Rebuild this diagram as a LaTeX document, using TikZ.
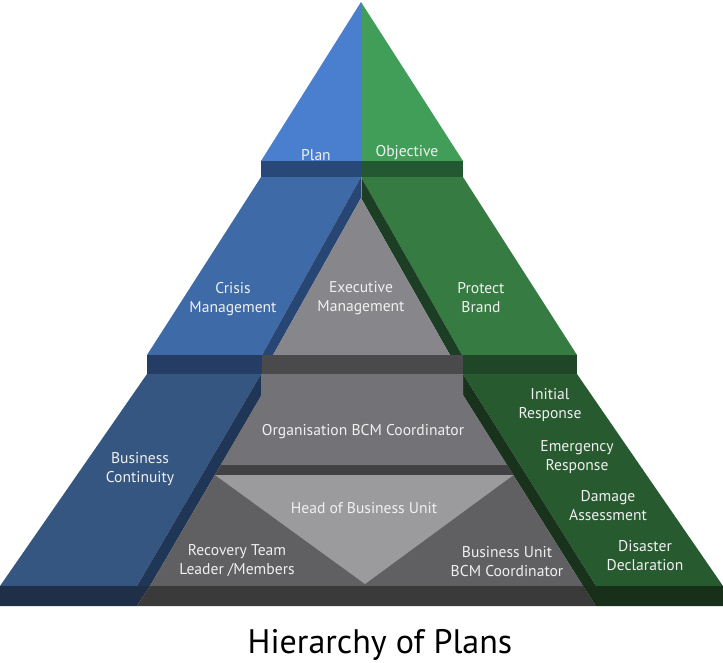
\documentclass[tikz,border=0pt]{standalone}
\usepackage{fontspec}
\setmainfont{PT Sans}
\definecolor{topblue}{RGB}{74,126,207}
\definecolor{topgreen}{RGB}{64,158,88}
\definecolor{bandAblue}{RGB}{40,72,120}
\definecolor{bandAgreen}{RGB}{36,88,50}
\definecolor{tBblue}{RGB}{62,106,168}
\definecolor{tBbluedark}{RGB}{40,70,115}
\definecolor{tBgreen}{RGB}{54,123,66}
\definecolor{tBgreendark}{RGB}{28,62,36}
\definecolor{tBgrey}{RGB}{135,135,139}
\definecolor{bandBblue}{RGB}{37,61,100}
\definecolor{bandBgrey}{RGB}{74,74,76}
\definecolor{bandBgreen}{RGB}{31,70,39}
\definecolor{tCblue}{RGB}{52,86,128}
\definecolor{tCbluedark}{RGB}{32,54,86}
\definecolor{tCgreen}{RGB}{40,90,48}
\definecolor{tCgreendark}{RGB}{24,50,28}
\definecolor{orggrey}{RGB}{115,115,119}
\definecolor{bandCgrey}{RGB}{66,66,68}
\definecolor{hobugrey}{RGB}{155,155,158}
\definecolor{sidegrey}{RGB}{96,96,99}
\definecolor{bandDblue}{RGB}{31,47,72}
\definecolor{bandDgrey}{RGB}{58,58,58}
\definecolor{bandDgreen}{RGB}{24,48,26}
\definecolor{labeltext}{RGB}{240,240,240}
\tikzset{
  lbl/.style={text=labeltext, align=center, inner sep=0pt,
    font=\fontsize{15.6}{19}\selectfont},
  ttl/.style={text=black, inner sep=0pt, anchor=base,
    font=\fontsize{34}{40}\selectfont}
}
\begin{document}
\begin{tikzpicture}[x=1pt,y=-1pt]
\useasboundingbox (0,0) rectangle (723,662);
% top triangle
\fill[topblue] (361,2) -- (261,161) -- (361,161) -- cycle;
\fill[topgreen] (361,2) -- (463,161) -- (361,161) -- cycle;
\fill[bandAblue] (261,161) rectangle (361,177);
\fill[bandAgreen] (361,161) rectangle (463,177);
% tier 2
\fill[tBblue] (261,177) -- (361,177) -- (262,355) -- (147,355) -- cycle;
\fill[tBbluedark] (361,177) -- (361,198) -- (273,355) -- (262,355) -- cycle;
\fill[tBgreen] (361,177) -- (463,177) -- (577,355) -- (462,355) -- cycle;
\fill[tBgreendark] (361,177) -- (462,355) -- (450,355) -- (361,198) -- cycle;
\fill[tBgrey] (361,198) -- (273,355) -- (450,355) -- cycle;
\draw[tBgrey, line width=1pt] (361,177) -- (361,198);
\fill[bandBblue] (147,355) rectangle (262,374);
\fill[bandBgrey] (262,355) rectangle (463,374);
\fill[bandBgreen] (463,355) rectangle (577,374);
% tier 3
\fill[tCblue] (147,374) -- (261,374) -- (137,586) -- (0,586) -- cycle;
\fill[tCbluedark] (261,374) -- (261,396) -- (150,586) -- (137,586) -- cycle;
\fill[tCgreen] (463,374) -- (577,374) -- (723,586) -- (596,586) -- cycle;
\fill[tCgreendark] (463,374) -- (596,586) -- (583,586) -- (463,395) -- cycle;
\fill[sidegrey] (261,374) -- (463,374) -- (463,395) -- (583,586) -- (150,586) -- (261,396) -- cycle;
\fill[orggrey] (261,374) -- (463,374) -- (463,395) -- (507,465) -- (221,465) -- (261,396) -- cycle;
\fill[bandCgrey] (221,465) -- (507,465) -- (513.5,475) -- (215,475) -- cycle;
\fill[hobugrey] (215,475) -- (513.5,475) -- (365,584) -- cycle;
% bottom band
\fill[bandDblue] (0,586) -- (150,586) -- (137,606) -- (0,606) -- cycle;
\fill[bandDgrey] (150,586) -- (583,586) -- (596,606) -- (137,606) -- cycle;
\fill[bandDgreen] (583,586) -- (723,586) -- (723,606) -- (596,606) -- cycle;
% labels
\node[lbl] (plan) at (316,155) {Plan};
\node[lbl] (objective) at (407,153) {Objective};
\node[lbl] (crisis) at (233,299) {Crisis\\Management};
\node[lbl] (exec) at (361,298) {Executive\\Management};
\node[lbl] (brand) at (481,298) {Protect\\Brand};
\node[lbl] (org) at (363,432) {Organisation BCM Coordinator};
\node[lbl] (bc) at (140,469) {Business\\Continuity};
\node[lbl] (initial) at (550,405) {Initial\\Response};
\node[lbl] (emerg) at (577,457) {Emergency\\Response};
\node[lbl] (damage) at (608,506) {Damage\\Assessment};
\node[lbl] (disaster) at (645,556) {Disaster\\Declaration};
\node[lbl] (hobu) at (364,508) {Head of Business Unit};
\node[lbl] (recovery) at (237,561) {Recovery Team\\Leader /Members};
\node[lbl] (buc) at (507,562) {Business Unit\\BCM Coordinator};
\node[ttl] (title) at (380,653) {Hierarchy of Plans};
\end{tikzpicture}
\end{document}
